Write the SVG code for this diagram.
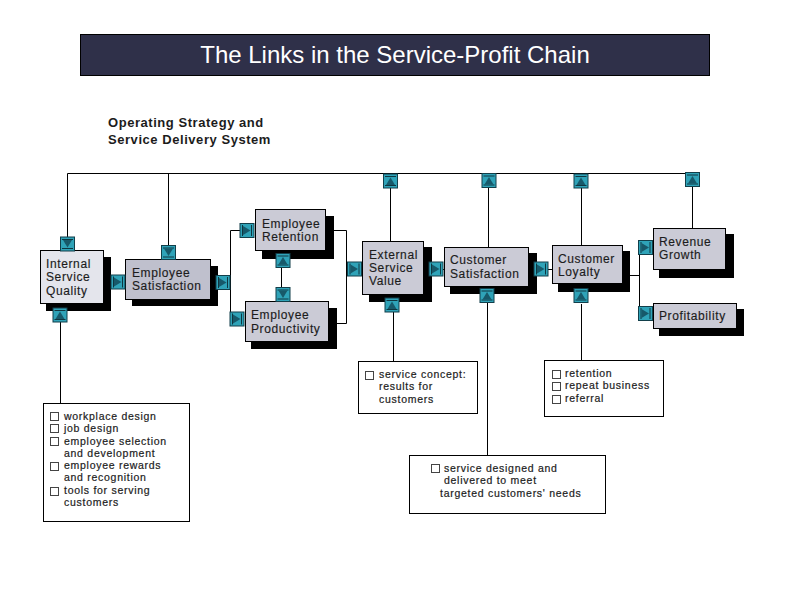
<svg xmlns="http://www.w3.org/2000/svg" xmlns:xlink="http://www.w3.org/1999/xlink" width="793" height="613" viewBox="0 0 793 613">
<style>
text{font-family:"Liberation Sans",Arial,sans-serif;fill:#1c1c1c}
.title{font-size:24px;fill:#fff;text-anchor:middle}
.head{font-size:13px;font-weight:bold;letter-spacing:.55px}
.n{font-size:12px;letter-spacing:.62px;stroke:#1c1c1c;stroke-width:.15px}
.b{font-size:10.5px;letter-spacing:.72px;stroke:#1c1c1c;stroke-width:.2px}
.box{fill:#cbcbd6;stroke:#000;stroke-width:1}
.shadow{fill:#000}
.note{fill:#fff;stroke:#000;stroke-width:1}
.tick{fill:#fff;stroke:#444;stroke-width:1}
.wire{fill:none;stroke:#000;stroke-width:1}
</style>
<defs>
<!-- junction glyph, drawn pointing up; the other directions rotate it -->
<g id="junction">
<rect x="-7" y="-7" width="14" height="14" fill="#2fa3b8" stroke="#123f4a" stroke-width="1"/>
<path d="M-5.500-4.500H5.500M-5.500 4.500H5.500" stroke="#0b2a33" stroke-width=".9" fill="none"/>
<path d="M0-3.500L4.500 4H-4.500Z" fill="#17596a"/>
</g>
</defs>
<rect width="793" height="613" fill="#fff"/>
<g id="title-band">
<rect x="80.500" y="34.500" width="629" height="41" fill="#2f3049" stroke="#000"/>
<text class="title" x="395" y="63">The Links in the Service-Profit Chain</text>
</g>
<g id="strategy-heading">
<text class="head" x="108" y="127">Operating Strategy and</text>
<text class="head" x="108" y="144">Service Delivery System</text>
</g>
<g id="internal-service-quality">
<rect class="shadow" x="46" y="257" width="65" height="54"/>
<rect class="box" style="fill:#e4e5ec" x="40.500" y="250.500" width="63" height="53"/>
<text class="n" x="46" y="268">Internal</text>
<text class="n" x="46" y="281">Service</text>
<text class="n" x="46" y="295">Quality</text>
</g>
<g id="employee-satisfaction">
<rect class="shadow" x="132" y="266" width="86" height="40"/>
<rect class="box" style="fill:#bfc0cd" x="125.500" y="259.500" width="85" height="40"/>
<text class="n" x="132" y="277">Employee</text>
<text class="n" x="132" y="290">Satisfaction</text>
</g>
<g id="employee-retention">
<rect class="shadow" x="262" y="216" width="72" height="43"/>
<rect class="box" x="255.500" y="209.500" width="70" height="41"/>
<text class="n" x="262" y="228">Employee</text>
<text class="n" x="262" y="241">Retention</text>
</g>
<g id="employee-productivity">
<rect class="shadow" x="251" y="308" width="86" height="41"/>
<rect class="box" x="245.500" y="301.500" width="83" height="40"/>
<text class="n" x="251" y="319">Employee</text>
<text class="n" x="251" y="333">Productivity</text>
</g>
<g id="external-service-value">
<rect class="shadow" x="369" y="247" width="63" height="55"/>
<rect class="box" x="362.500" y="241.500" width="61" height="53"/>
<text class="n" x="369" y="259">External</text>
<text class="n" x="369" y="272">Service</text>
<text class="n" x="369" y="285">Value</text>
</g>
<g id="customer-satisfaction">
<rect class="shadow" x="450" y="253" width="87" height="41"/>
<rect class="box" x="444.500" y="247.500" width="84" height="39"/>
<text class="n" x="450" y="264">Customer</text>
<text class="n" x="450" y="278">Satisfaction</text>
</g>
<g id="customer-loyalty">
<rect class="shadow" x="558" y="251" width="72" height="41"/>
<rect class="box" x="552.500" y="245.500" width="70" height="38"/>
<text class="n" x="558" y="263">Customer</text>
<text class="n" x="558" y="276">Loyalty</text>
</g>
<g id="revenue-growth">
<rect class="shadow" x="659" y="234" width="75" height="44"/>
<rect class="box" x="653.500" y="228.500" width="72" height="41"/>
<text class="n" x="659" y="246">Revenue</text>
<text class="n" x="659" y="259">Growth</text>
</g>
<g id="profitability">
<rect class="shadow" x="659" y="309" width="85" height="27"/>
<rect class="box" x="653.500" y="303.500" width="83" height="25"/>
<text class="n" x="659" y="320">Profitability</text>
</g>
<g id="notes-internal">
<rect class="note" x="43.500" y="403.500" width="146" height="118"/>
<rect class="tick" x="50.500" y="412.500" width="8" height="8"/>
<rect class="tick" x="50.500" y="424.500" width="8" height="8"/>
<rect class="tick" x="50.500" y="437.500" width="8" height="8"/>
<rect class="tick" x="50.500" y="462.500" width="8" height="8"/>
<rect class="tick" x="50.500" y="487.500" width="8" height="8"/>
<text class="b" x="64" y="420">workplace design</text>
<text class="b" x="64" y="432">job design</text>
<text class="b" x="64" y="445">employee selection</text>
<text class="b" x="64" y="457">and development</text>
<text class="b" x="64" y="469">employee rewards</text>
<text class="b" x="64" y="481">and recognition</text>
<text class="b" x="64" y="494">tools for serving</text>
<text class="b" x="64" y="506">customers</text>
</g>
<g id="notes-external">
<rect class="note" x="358.500" y="361.500" width="119" height="52"/>
<rect class="tick" x="365.500" y="371.500" width="8" height="8"/>
<text class="b" x="379" y="378">service concept:</text>
<text class="b" x="379" y="390">results for</text>
<text class="b" x="379" y="403">customers</text>
</g>
<g id="notes-satisfaction">
<rect class="note" x="409.500" y="455.500" width="196" height="58"/>
<rect class="tick" x="431.500" y="464.500" width="8" height="8"/>
<text class="b" x="444" y="472">service designed and</text>
<text class="b" x="444" y="484">delivered to meet</text>
<text class="b" x="440" y="497">targeted customers' needs</text>
</g>
<g id="notes-loyalty">
<rect class="note" x="544.500" y="360.500" width="119" height="56"/>
<rect class="tick" x="552.500" y="370.500" width="8" height="8"/>
<rect class="tick" x="552.500" y="382.500" width="8" height="8"/>
<rect class="tick" x="552.500" y="395.500" width="8" height="8"/>
<text class="b" x="565" y="377">retention</text>
<text class="b" x="565" y="389">repeat business</text>
<text class="b" x="565" y="402">referral</text>
</g>
<g id="connectors">
<path class="wire" d="M67.500 173.500H692.500M67.500 173.500V238M168.500 173.500V246M390.500 188V241M488.500 188V247M581.500 188V245M692.500 187V228"/>
<path class="wire" d="M60.500 322V403M393.500 312V361M487.500 302V455M581.500 304V360"/>
<path class="wire" d="M103 282.500H125M210 282.500H230.500M230.500 230.500V319.500M230.500 230.500H240M230.500 319.500H231M281.500 267V288"/>
<path class="wire" d="M325 230.500H346.500V323.500H328M346.500 269.500H348M423 269.500H444M528 269.500H552"/>
<path class="wire" d="M622 275.500H639.500M639.500 247.500V313.500M639.500 247.500H640M639.500 306.500H653"/>
<use xlink:href="#junction" transform="translate(67.500 244) rotate(180)"/>
<use xlink:href="#junction" transform="translate(60 315)"/>
<use xlink:href="#junction" transform="translate(118 282) rotate(90)"/>
<use xlink:href="#junction" transform="translate(168.500 252.500) rotate(180)"/>
<use xlink:href="#junction" transform="translate(223 282.500) rotate(90)"/>
<use xlink:href="#junction" transform="translate(247 230.500) rotate(90)"/>
<use xlink:href="#junction" transform="translate(237 319) rotate(90)"/>
<use xlink:href="#junction" transform="translate(283 260.500)"/>
<use xlink:href="#junction" transform="translate(283 294.500) rotate(180)"/>
<use xlink:href="#junction" transform="translate(354.500 269) rotate(90)"/>
<use xlink:href="#junction" transform="translate(390.500 181)"/>
<use xlink:href="#junction" transform="translate(489 180.500)"/>
<use xlink:href="#junction" transform="translate(581 181)"/>
<use xlink:href="#junction" transform="translate(692.500 179.500)"/>
<use xlink:href="#junction" transform="translate(436 269) rotate(90)"/>
<use xlink:href="#junction" transform="translate(541 269) rotate(90)"/>
<use xlink:href="#junction" transform="translate(645.500 247.500) rotate(90)"/>
<use xlink:href="#junction" transform="translate(645.500 313.500) rotate(90)"/>
<use xlink:href="#junction" transform="translate(392 305)"/>
<use xlink:href="#junction" transform="translate(487 295.500)"/>
<use xlink:href="#junction" transform="translate(581 295.500)"/>
</g>
</svg>
